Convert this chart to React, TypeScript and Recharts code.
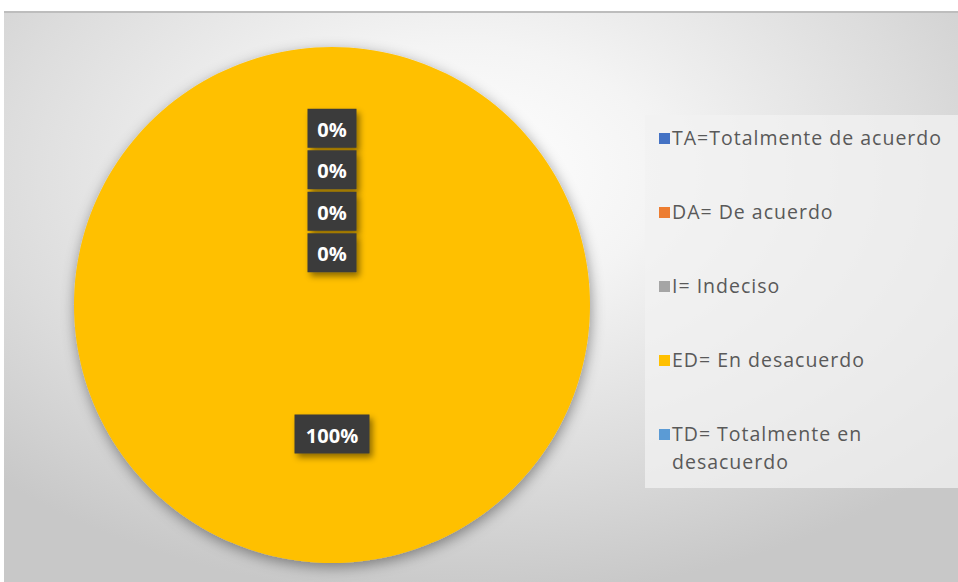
import { PieChart, Pie, Cell, Legend } from "recharts";

const categories = [
  "TA=Totalmente de acuerdo",
  "DA= De acuerdo",
  "I= Indeciso",
  "ED= En desacuerdo",
  "TD= Totalmente en desacuerdo",
];
const values = [0, 0, 0, 100, 0];
const colors = ["#4472C4", "#ED7D31", "#A5A5A5", "#FFC000", "#5B9BD5"];

const data = categories.map((name, i) => ({ name, value: values[i] }));
const total = values.reduce((a, b) => a + b, 0);

const RADIAN = Math.PI / 180;
const zeroOrder = values.map((v, i) => values.slice(0, i).filter((x) => x === 0).length);

const renderLabel = (props: any) => {
  const { cx, cy, midAngle, outerRadius, index } = props;
  const v = values[index];
  const pct = Math.round((v / total) * 100) + "%";
  let x: number;
  let y: number;
  if (v === 0) {
    x = cx;
    y = cy - outerRadius * 0.685 + zeroOrder[index] * 41.5;
  } else {
    const r = outerRadius * 0.5;
    x = cx + r * Math.cos(-midAngle * RADIAN);
    y = cy + r * Math.sin(-midAngle * RADIAN);
  }
  const w = pct.length * 13 + 23;
  const h = 39;
  return (
    <g key={"lbl" + index}>
      <rect x={x - w / 2} y={y - h / 2} width={w} height={h} fill="#3b3b3b" filter="url(#lblShadow)" />
      <text
        x={x}
        y={y + 1}
        textAnchor="middle"
        dominantBaseline="central"
        fill="#ffffff"
        fontSize={20}
        fontWeight="bold"
        fontFamily="'Open Sans', sans-serif"
      >
        {pct}
      </text>
    </g>
  );
};

const renderLegend = () => (
  <div
    style={{
      width: 313,
      height: 373,
      background: "rgba(242,242,242,0.75)",
      boxSizing: "border-box",
      paddingLeft: 14,
      paddingTop: 9,
      fontFamily: "'Open Sans', sans-serif",
      fontSize: 19.5,
      letterSpacing: 1,
      color: "#595959",
    }}
  >
    {categories.map((c, i) => (
      <div
        key={c}
        style={{ display: "flex", alignItems: "flex-start", height: 74, lineHeight: "28px" }}
      >
        <span
          style={{
            display: "inline-block",
            width: 11,
            height: 11,
            background: colors[i],
            marginTop: 9,
            marginRight: 2,
            flex: "none",
          }}
        />
        <span style={{ width: 285, whiteSpace: "normal" }}>{c}</span>
      </div>
    ))}
  </div>
);

export default function App() {
  return (
    <div style={{ position: "fixed", left: 0, top: 0, width: 958, height: 582, background: "#ffffff" }}>
      <svg width={0} height={0} style={{ position: "absolute" }}>
        <defs>
          <filter id="lblShadow" x="-30%" y="-30%" width="170%" height="170%">
            <feDropShadow dx={3} dy={4} stdDeviation={3} floodColor="#000" floodOpacity={0.45} />
          </filter>
          <filter id="pieShadow" x="-10%" y="-10%" width="130%" height="130%">
            <feDropShadow dx={1} dy={4} stdDeviation={7} floodColor="#000" floodOpacity={0.4} />
          </filter>
        </defs>
      </svg>
      <div
        style={{
          position: "absolute",
          left: 4,
          top: 11,
          width: 954,
          height: 571,
          borderTop: "2px solid #bdbdbd",
          boxSizing: "border-box",
          background:
            "radial-gradient(ellipse 70% 75% at 48% 28%, #ffffff 0%, #f4f4f4 30%, #dcdcdc 70%, #c8c8c8 100%)",
        }}
      />
      <div style={{ position: "absolute", left: 0, top: 0 }}>
        <PieChart width={958} height={582}>
          <Pie
            data={data}
            dataKey="value"
            nameKey="name"
            cx={327}
            cy={300}
            outerRadius={258}
            startAngle={90}
            endAngle={-270}
            stroke="none"
            labelLine={false}
            label={renderLabel}
            isAnimationActive={false}
          >
            {data.map((d, i) => (
              <Cell key={d.name} fill={colors[i]} filter="url(#pieShadow)" />
            ))}
          </Pie>
          <Legend
            content={renderLegend}
            wrapperStyle={{ position: "absolute", left: 645, top: 115, width: 313 }}
          />
        </PieChart>
      </div>
    </div>
  );
}
